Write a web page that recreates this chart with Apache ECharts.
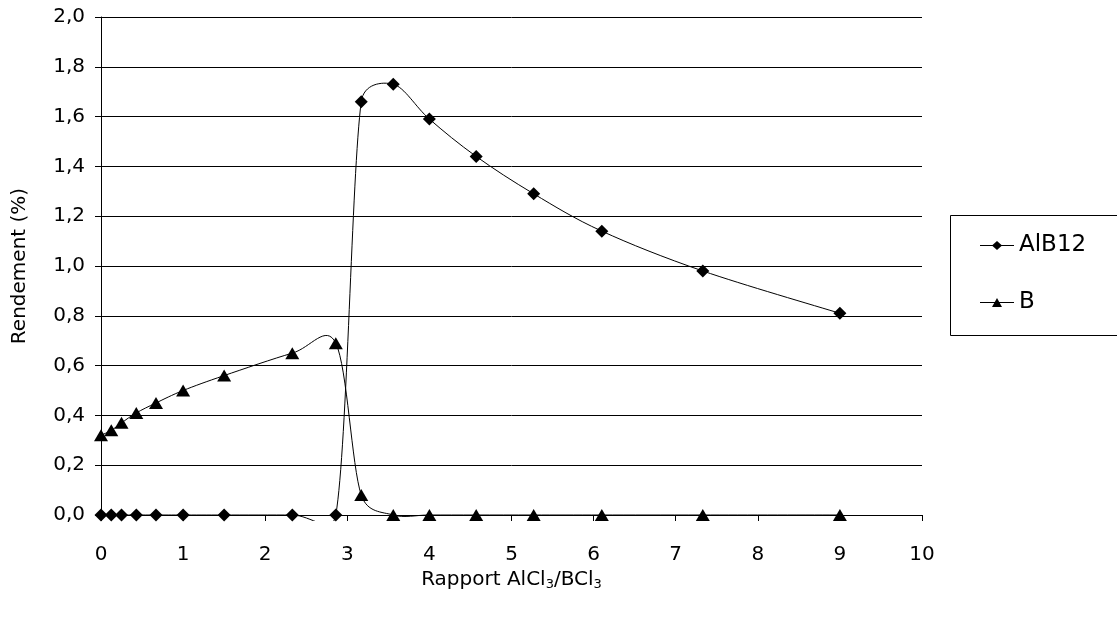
<!DOCTYPE html>
<html>
<head>
<meta charset="utf-8">
<script src="https://cdn.jsdelivr.net/npm/echarts@6/dist/echarts.min.js"></script>
<style>
html,body{margin:0;padding:0;background:#fff;}
#c{width:1117px;height:621px;}
</style>
</head>
<body>
<div id="c"></div>
<script>
// Data
const ratios = [0, 0.125, 0.25, 0.43, 0.67, 1, 1.5, 2.33, 2.86, 3.17, 3.56, 4, 4.57, 5.27, 6.1, 7.33, 9];
const alb12 = [0, 0, 0, 0, 0, 0, 0, 0, 0, 1.66, 1.73, 1.59, 1.44, 1.29, 1.14, 0.98, 0.81];
const bVals = [0.32, 0.34, 0.37, 0.41, 0.45, 0.50, 0.56, 0.65, 0.69, 0.08, 0, 0, 0, 0, 0, 0, 0];
const seriesNames = ['AlB12', 'B'];

const FONT = 'DejaVu Sans';
const pairs = (xs, ys) => xs.map((x, i) => [x, ys[i]]);

// Spreadsheet-style smoothed line: cardinal bezier (1/6 of the neighbour chord),
// with each control arm limited to half the segment length; computed in pixel space via api.coord
function smoothRenderer(ys) {
  return function (params, api) {
    const pts = ratios.map((x, i) => api.coord([x, ys[i]]));
    const n = pts.length;
    const arm = (a, b, segLen) => {
      const dx = b[0] - a[0], dy = b[1] - a[1];
      const d = Math.hypot(dx, dy) || 1;
      const len = Math.min(d / 6, segLen / 2);
      return [dx / d * len, dy / d * len];
    };
    const children = [];
    for (let i = 0; i < n - 1; i++) {
      const p0 = pts[Math.max(i - 1, 0)], p1 = pts[i], p2 = pts[i + 1], p3 = pts[Math.min(i + 2, n - 1)];
      const segLen = Math.hypot(p2[0] - p1[0], p2[1] - p1[1]);
      const t1 = arm(p0, p2, segLen);
      const t2 = arm(p1, p3, segLen);
      children.push({
        type: 'bezierCurve',
        shape: {
          x1: p1[0], y1: p1[1], x2: p2[0], y2: p2[1],
          cpx1: p1[0] + t1[0], cpy1: p1[1] + t1[1],
          cpx2: p2[0] - t2[0], cpy2: p2[1] - t2[1]
        },
        style: {stroke: '#000', lineWidth: 1, fill: null}
      });
    }
    const cs = params.coordSys;
    return {
      type: 'group',
      children: children,
      clipPath: {type: 'rect', shape: {x: cs.x - 2, y: cs.y - 2, width: cs.width + 4, height: cs.height + 8}}
    };
  };
}

const iconDiamond = 'path://M0 4 L12.5 4 L17 0 L21.5 4 L34 4 L34 5 L21.5 5 L17 9 L12.5 5 L0 5 Z';
const iconTriangle = 'path://M0 4 L14.78 4 L17 0 L19.22 4 L34 4 L34 5 L19.78 5 L22 9 L12 9 L14.22 5 L0 5 Z';

const chart = echarts.init(document.getElementById('c'), null, {renderer: 'canvas'});
chart.setOption({
  backgroundColor: '#fff',
  animation: false,
  textStyle: {fontFamily: FONT, color: '#000'},
  grid: {left: 101, right: 195, top: 17, bottom: 106, containLabel: false},
  xAxis: {
    type: 'value', min: 0, max: 10, interval: 1,
    axisLine: {show: true, onZero: false, lineStyle: {color: '#000', width: 1}},
    axisTick: {show: true, inside: false, length: 6, lineStyle: {color: '#000'}},
    axisLabel: {fontFamily: FONT, fontSize: 20, color: '#000', margin: 30},
    splitLine: {show: false},
    name: 'Rapport AlCl{s|3}/BCl{s|3}',
    nameLocation: 'middle',
    nameGap: 54,
    nameTextStyle: {
      fontFamily: FONT, fontSize: 20, color: '#000',
      rich: {s: {fontFamily: FONT, fontSize: 13, color: '#000', verticalAlign: 'bottom', padding: [9, 0, 0, 0]}}
    }
  },
  yAxis: {
    type: 'value', min: 0, max: 2, interval: 0.2,
    axisLine: {show: true, lineStyle: {color: '#000', width: 1}},
    axisTick: {show: true, inside: false, length: 6, lineStyle: {color: '#000'}},
    axisLabel: {fontFamily: FONT, fontSize: 20, color: '#000', margin: 16,
      formatter: v => v.toFixed(1).replace('.', ',')},
    splitLine: {show: true, lineStyle: {color: '#000', width: 1}},
    name: 'Rendement (%)',
    nameLocation: 'middle',
    nameGap: 71,
    nameTextStyle: {fontFamily: FONT, fontSize: 20, color: '#000'}
  },
  legend: {
    orient: 'vertical',
    left: 980, top: 234, padding: 0,
    itemWidth: 34, itemHeight: 9,
    itemGap: 34,
    textStyle: {fontFamily: FONT, fontSize: 23, color: '#000'},
    data: [
      {name: seriesNames[0], icon: iconDiamond, itemStyle: {color: '#000'}},
      {name: seriesNames[1], icon: iconTriangle, itemStyle: {color: '#000'}}
    ]
  },
  graphic: [{
    type: 'rect', left: 948, top: 213,
    shape: {x: 0, y: 0, width: 190, height: 120},
    style: {fill: 'none', stroke: '#000', lineWidth: 1},
    silent: true, z: 0
  }],
  series: [
    {
      name: seriesNames[0], type: 'custom', coordinateSystem: 'cartesian2d',
      data: [[ratios[0], alb12[0]]], clip: false,
      renderItem: smoothRenderer(alb12), z: 2, silent: true
    },
    {
      name: seriesNames[1], type: 'custom', coordinateSystem: 'cartesian2d',
      data: [[ratios[0], bVals[0]]], clip: false,
      renderItem: smoothRenderer(bVals), z: 2, silent: true
    },
    {
      name: seriesNames[0], type: 'scatter', clip: false,
      data: pairs(ratios, alb12),
      symbol: 'diamond', symbolSize: [13, 13],
      itemStyle: {color: '#000', opacity: 1},
      z: 3
    },
    {
      name: seriesNames[1], type: 'scatter', clip: false,
      data: pairs(ratios, bVals),
      symbol: 'triangle', symbolSize: [14, 12],
      itemStyle: {color: '#000', opacity: 1},
      z: 3
    }
  ]
});
</script>
</body>
</html>
